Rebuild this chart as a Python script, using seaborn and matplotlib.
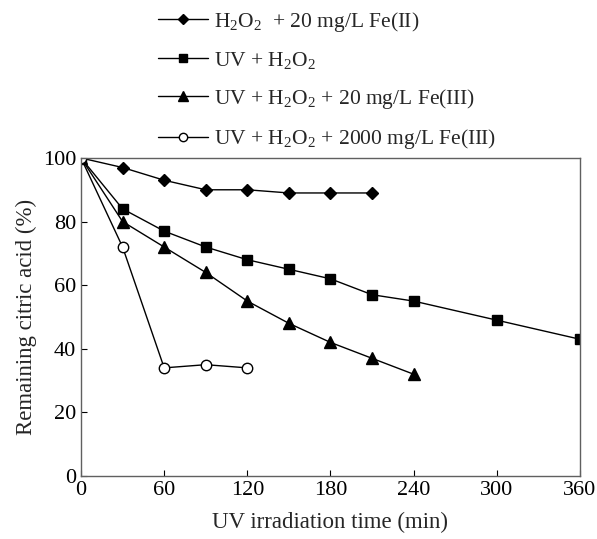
import pandas as pd
import matplotlib.pyplot as plt
import seaborn as sns

# Data
time_fe2 = [0, 30, 60, 90, 120, 150, 180, 210]
acid_fe2 = [100, 97, 93, 90, 90, 89, 89, 89]

time_uv = [0, 30, 60, 90, 120, 150, 180, 210, 240, 300, 360]
acid_uv = [100, 84, 77, 72, 68, 65, 62, 57, 55, 49, 43]

time_fe3 = [0, 30, 60, 90, 120, 150, 180, 210, 240]
acid_fe3 = [100, 80, 72, 64, 55, 48, 42, 37, 32]

time_fe3_high = [0, 30, 60, 90, 120]
acid_fe3_high = [100, 72, 34, 35, 34]

labels = [
    r"H$_2$O$_2$  + 20 mg/L Fe(II)",
    r"UV + H$_2$O$_2$",
    r"UV + H$_2$O$_2$ + 20 mg/L Fe(III)",
    r"UV + H$_2$O$_2$ + 2000 mg/L Fe(III)",
]

sns.set_style("ticks")
plt.rcParams['font.family'] = ['Liberation Serif', 'DejaVu Serif']
plt.rcParams['mathtext.fontset'] = 'custom'
plt.rcParams['mathtext.rm'] = 'Liberation Serif'
plt.rcParams['mathtext.it'] = 'Liberation Serif:italic'
plt.rcParams['font.size'] = 15

fig = plt.figure(figsize=(5.97, 5.39), dpi=100)
ax = fig.add_axes([0.1357, 0.1169, 0.8358, 0.59])

series = [
    (time_fe2, acid_fe2, "D", "black", 6.5),
    (time_uv, acid_uv, "s", "black", 7.5),
    (time_fe3, acid_fe3, "^", "black", 8.5),
    (time_fe3_high, acid_fe3_high, "o", "white", 7.5),
]
for (x, y, m, fc, ms), lab in zip(series, labels):
    sns.lineplot(x=x, y=y, ax=ax, color="black", linewidth=1, marker=m,
                 markersize=ms, markerfacecolor=fc, markeredgecolor="black",
                 markeredgewidth=1, label=lab)

ax.set_xlim(0, 360)
ax.set_ylim(0, 100)
ax.set_xticks(range(0, 361, 60))
ax.set_yticks(range(0, 101, 20))
ax.tick_params(direction="in", length=4, labelsize=16, colors="black")
for s in ax.spines.values():
    s.set_visible(True)
    s.set_color("#606060")
    s.set_linewidth(1)
ax.set_xlabel("UV irradiation time (min)", fontsize=16.5, labelpad=9)
ax.set_ylabel("Remaining citric acid (%)", fontsize=16.5, labelpad=4)

handles, labs = ax.get_legend_handles_labels()
ax.get_legend().remove()
fig.legend(handles, labs, loc="upper left", bbox_to_anchor=(158 / 597, 0.982),
           frameon=False, handlelength=2.3, numpoints=1, labelspacing=0.75,
           fontsize=15.5, handletextpad=0.3, borderpad=0, borderaxespad=0,
           markerscale=0.8)

plt.savefig("out.png", dpi=100)
plt.close()
